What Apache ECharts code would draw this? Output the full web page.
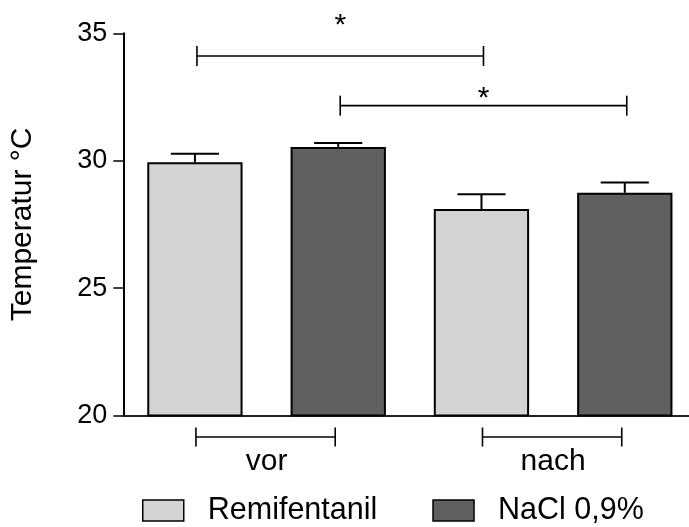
<!DOCTYPE html>
<html><head><meta charset="utf-8">
<script src="https://cdn.jsdelivr.net/npm/echarts@6/dist/echarts.min.js"></script>
<style>html,body{margin:0;padding:0;background:#fff}#c{width:689px;height:527px}</style>
</head><body><div id="c"></div>
<script>
// ---- data ----
const categories = ['vor', 'nach'];
const seriesNames = ['Remifentanil', 'NaCl 0,9%'];
const remifentanilMean = [29.94, 28.10];
const remifentanilSEM = [0.33, 0.58];
const naclMean = [30.54, 28.74];
const naclSEM = [0.15, 0.40];
const yTicks = [20, 25, 30, 35];
// significance brackets: [categoryIndex, groupIndex] from/to, bracket level and star level (°C)
const sigFrom = [[0, 0], [0, 1]];
const sigTo = [[1, 0], [1, 1]];
const sigLevel = [34.11, 32.16];
const sigStarLevel = [35.59, 32.71];
const sigLabel = ['*', '*'];

// ---- styles ----
const FONT = 'Liberation Sans, Arial, Helvetica, sans-serif';
const colors = ['#d3d3d3', '#606060'];
const groupOffset = [-0.25, 0.25];

const chart = echarts.init(document.getElementById('c'), null, {renderer: 'canvas'});

function errRender(group) {
  return function (params, api) {
    const cat = api.value(0), mean = api.value(1), err = api.value(2);
    const band = api.size([1, 0])[0];
    const pTop = api.coord([cat, mean + err]);
    const pMean = api.coord([cat, mean]);
    const x = pTop[0] + groupOffset[group] * band;
    const half = band * 0.084;
    const st = {stroke: '#000', lineWidth: 2};
    return {type: 'group', children: [
      {type: 'line', shape: {x1: x, y1: pMean[1], x2: x, y2: pTop[1]}, style: st},
      {type: 'line', shape: {x1: x - half, y1: pTop[1], x2: x + half, y2: pTop[1]}, style: st}
    ]};
  };
}

function sigRender(params, api) {
  const i = api.value(0);
  const band = api.size([1, 0])[0];
  const p1 = api.coord([sigFrom[i][0], sigLevel[i]]);
  const p2 = api.coord([sigTo[i][0], sigLevel[i]]);
  const ps = api.coord([sigFrom[i][0], sigStarLevel[i]]);
  const x1 = p1[0] + groupOffset[sigFrom[i][1]] * band + 2;
  const x2 = p2[0] + groupOffset[sigTo[i][1]] * band + 2;
  const y = p1[1];
  const st = {stroke: '#000', lineWidth: 1.6};
  return {type: 'group', children: [
    {type: 'line', shape: {x1: x1, y1: y, x2: x2, y2: y}, style: st},
    {type: 'line', shape: {x1: x1, y1: y - 10, x2: x1, y2: y + 10}, style: st},
    {type: 'line', shape: {x1: x2, y1: y - 10, x2: x2, y2: y + 10}, style: st},
    {type: 'text', x: (x1 + x2) / 2, y: ps[1] + 7, style: {text: sigLabel[i], fontSize: 30, fontFamily: FONT, fill: '#000', align: 'center', verticalAlign: 'middle'}}
  ]};
}

function catBracketRender(params, api) {
  const cat = api.value(0);
  const band = api.size([1, 0])[0];
  const p = api.coord([cat, yTicks[0]]);
  const x1 = p[0] - 0.243 * band - 1, x2 = p[0] + 0.243 * band - 1;
  const y = p[1] + 21.5;
  const st = {stroke: '#000', lineWidth: 1.6};
  return {type: 'group', children: [
    {type: 'line', shape: {x1: x1, y1: y, x2: x2, y2: y}, style: st},
    {type: 'line', shape: {x1: x1, y1: y - 9.5, x2: x1, y2: y + 9.5}, style: st},
    {type: 'line', shape: {x1: x2, y1: y - 9.5, x2: x2, y2: y + 9.5}, style: st}
  ]};
}

const option = {
  animation: false,
  backgroundColor: '#fff',
  textStyle: {fontFamily: FONT},
  grid: {left: 123.3, top: 33.3, height: 382.2, width: 573.1, containLabel: false, outerBoundsMode: 'none'},
  legend: {
    data: seriesNames, left: 142, top: 495, padding: 0,
    icon: 'rect', itemWidth: 41, itemHeight: 21, itemGap: 55,
    itemStyle: {borderColor: '#000', borderWidth: 1.5},
    textStyle: {fontSize: 30.5, color: '#000', fontFamily: FONT, padding: [0, 0, 0, 19]}
  },
  xAxis: {
    type: 'category', data: categories,
    axisLine: {show: true, lineStyle: {color: '#222', width: 2}},
    axisTick: {show: false},
    axisLabel: {fontSize: 30, color: '#000', fontFamily: FONT, margin: 31},
    splitLine: {show: false}
  },
  yAxis: {
    type: 'value', min: yTicks[0], max: yTicks[yTicks.length - 1], interval: 5,
    name: 'Temperatur °C', nameLocation: 'middle', nameGap: 86,
    nameTextStyle: {fontSize: 30, color: '#000', fontFamily: FONT},
    axisLine: {show: true, lineStyle: {color: '#000', width: 2}},
    axisTick: {show: true, length: 10, lineStyle: {color: '#000', width: 1.5}},
    axisLabel: {fontSize: 27, color: '#000', fontFamily: FONT, margin: 16},
    splitLine: {show: false}
  },
  series: [
    {name: seriesNames[0], type: 'bar', data: remifentanilMean, barWidth: '33.26%', barGap: '50.4%',
     itemStyle: {color: colors[0], borderColor: '#000', borderWidth: 2}},
    {name: seriesNames[1], type: 'bar', data: naclMean, barWidth: '33.26%', barGap: '50.4%',
     itemStyle: {color: colors[1], borderColor: '#000', borderWidth: 2}},
    {type: 'custom', renderItem: errRender(0), z: 5,
     data: remifentanilMean.map((m, i) => [i, m, remifentanilSEM[i]])},
    {type: 'custom', renderItem: errRender(1), z: 5,
     data: naclMean.map((m, i) => [i, m, naclSEM[i]])},
    {type: 'custom', renderItem: sigRender, z: 5, clip: false,
     data: sigLevel.map((v, i) => [i, v])},
    {type: 'custom', renderItem: catBracketRender, z: 5, clip: false,
     data: categories.map((c, i) => [i, yTicks[0]])}
  ]
};
chart.setOption(option);
</script>
</body></html>
